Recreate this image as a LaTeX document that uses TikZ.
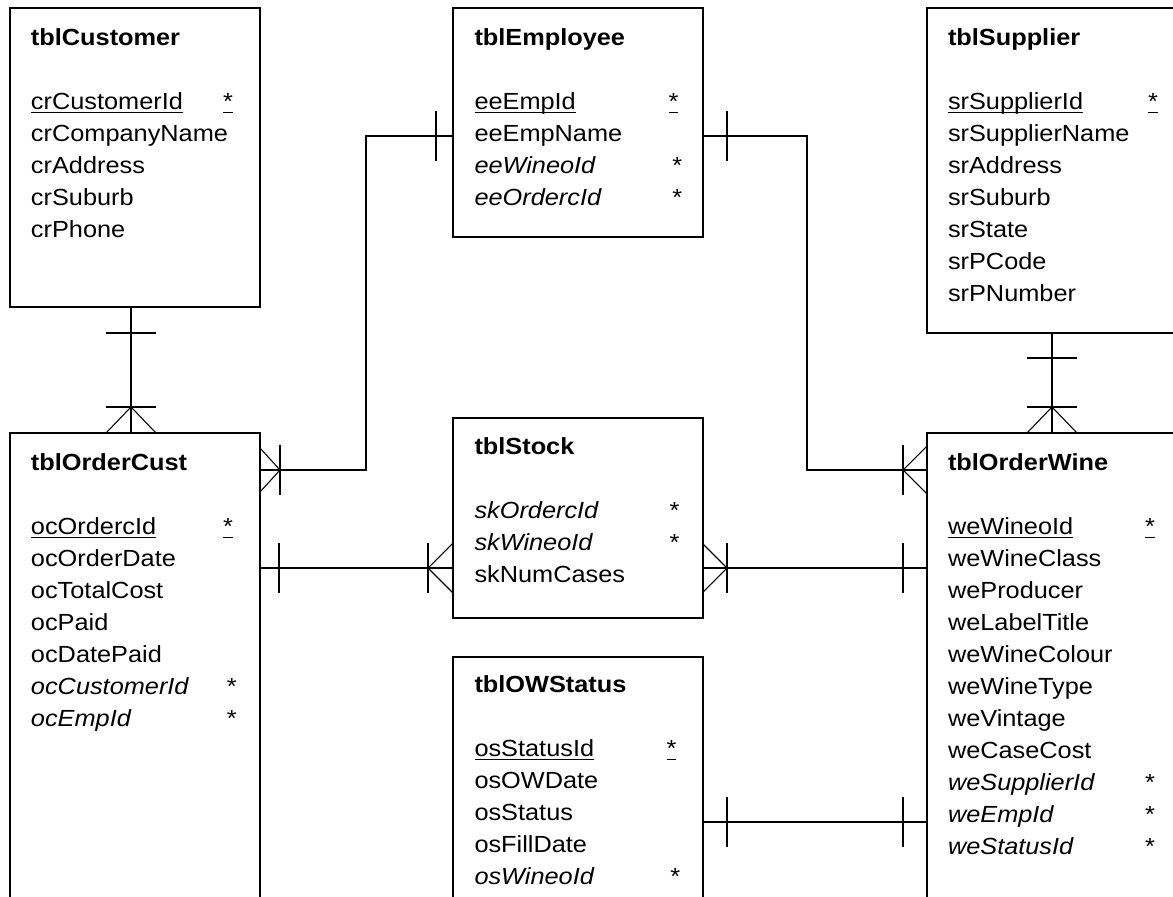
\documentclass[tikz,border=0pt]{standalone}
\usepackage{fontspec}
\setmainfont{Liberation Sans}[FakeStretch=1.085]
\usetikzlibrary{calc,fit}

% column position of the key marker
\newlength\starcol
\newcommand\fld[2]{\makebox[\starcol][l]{#1}#2}
% underline used for primary keys
\newcommand\keyul[1]{\setbox0\hbox{#1}\rlap{\rule[-3.3pt]{\wd0}{1pt}}\box0}

\tikzset{
  ent/.style={draw, line width=1.1pt, inner sep=0pt, outer sep=0pt},
  fields/.style={anchor=base west, inner sep=0pt, outer sep=0pt,
    font=\fontsize{17.5}{24}\selectfont},
  link/.style={line width=0.8pt},
}
% small perpendicular strokes on connectors
\newcommand\vtick[1]{\draw[link] ($(#1)+(0,-25)$) -- ($(#1)+(0,25)$);}
\newcommand\htick[1]{\draw[link] ($(#1)+(-25,0)$) -- ($(#1)+(25,0)$);}

\begin{document}
\begin{tikzpicture}[x=0.75pt,y=-0.75pt]
\useasboundingbox (0,0) rectangle (1173,896);
\clip (0,0) rectangle (1173,896);

% ---------- entity boxes ----------
\node[ent, fit={(10,8) (260,307)}]     (cust)  {};
\node[ent, fit={(453,8) (703,237)}]    (emp)   {};
\node[ent, fit={(927,8) (1177,333)}]   (sup)   {};
\node[ent, fit={(10,433) (260,910)}]   (ocust) {};
\node[ent, fit={(453,418) (703,618)}]  (stock) {};
\node[ent, fit={(453,657) (703,910)}]  (ows)   {};
\node[ent, fit={(927,433) (1177,910)}] (owine) {};

% ---------- attribute lists ----------
\node[fields] (cust-t) at (31,45) {\setlength\starcol{144pt}%
  \begin{tabular}[t]{@{}l@{}}
  \textbf{tblCustomer}\\ \\
  \fld{\keyul{crCustomerId}}{\keyul{*}}\\
  crCompanyName\\
  crAddress\\
  crSuburb\\
  crPhone
  \end{tabular}};

\node[fields] (emp-t) at (474.5,45) {\setlength\starcol{145.5pt}%
  \begin{tabular}[t]{@{}l@{}}
  \textbf{tblEmployee}\\ \\
  \fld{\keyul{eeEmpId}}{\keyul{*}}\\
  eeEmpName\\
  \fld{\textit{eeWineoId}}{\,*}\\
  \fld{\textit{eeOrdercId}}{\,*}
  \end{tabular}};

\node[fields] (sup-t) at (948,45) {\setlength\starcol{150pt}%
  \begin{tabular}[t]{@{}l@{}}
  \textbf{tblSupplier}\\ \\
  \fld{\keyul{srSupplierId}}{\keyul{*}}\\
  srSupplierName\\
  srAddress\\
  srSuburb\\
  srState\\
  srPCode\\
  srPNumber
  \end{tabular}};

\node[fields] (ocust-t) at (31,470) {\setlength\starcol{144pt}%
  \begin{tabular}[t]{@{}l@{}}
  \textbf{tblOrderCust}\\ \\
  \fld{\keyul{ocOrdercId}}{\keyul{*}}\\
  ocOrderDate\\
  ocTotalCost\\
  ocPaid\\
  ocDatePaid\\
  \fld{\textit{ocCustomerId}}{\,*}\\
  \fld{\textit{ocEmpId}}{\,*}
  \end{tabular}};

\node[fields] (stock-t) at (474.5,454) {\setlength\starcol{146.25pt}%
  \begin{tabular}[t]{@{}l@{}}
  \textbf{tblStock}\\ \\
  \fld{\textit{skOrdercId}}{*}\\
  \fld{\textit{skWineoId}}{*}\\
  skNumCases
  \end{tabular}};

\node[fields] (ows-t) at (474.5,692) {\setlength\starcol{144pt}%
  \begin{tabular}[t]{@{}l@{}}
  \textbf{tblOWStatus}\\ \\
  \fld{\keyul{osStatusId}}{\keyul{*}}\\
  osOWDate\\
  osStatus\\
  osFillDate\\
  \fld{\textit{osWineoId}}{\,*}
  \end{tabular}};

\node[fields] (owine-t) at (948,470) {\setlength\starcol{147.75pt}%
  \begin{tabular}[t]{@{}l@{}}
  \textbf{tblOrderWine}\\ \\
  \fld{\keyul{weWineoId}}{\keyul{*}}\\
  weWineClass\\
  weProducer\\
  weLabelTitle\\
  weWineColour\\
  weWineType\\
  weVintage\\
  weCaseCost\\
  \fld{\textit{weSupplierId}}{*}\\
  \fld{\textit{weEmpId}}{*}\\
  \fld{\textit{weStatusId}}{*}
  \end{tabular}};

% ---------- relationships ----------
% tblCustomer 1 -- many tblOrderCust
\coordinate (k1) at (131,0);
\draw[link] (cust.south -| k1) -- (ocust.north -| k1);
\coordinate (k1a) at ($(cust.south -| k1)+(0,26)$);
\coordinate (k1b) at ($(ocust.north -| k1)+(0,-26)$);
\htick{k1a}
\htick{k1b}
\draw[link] ($(ocust.north -| k1)+(-25,0)$) -- (k1b) -- ($(ocust.north -| k1)+(25,0)$);

% tblSupplier 1 -- many tblOrderWine
\coordinate (k4) at (1052,0);
\draw[link] (sup.south -| k4) -- (owine.north -| k4);
\coordinate (k4a) at ($(sup.south -| k4)+(0,25)$);
\coordinate (k4b) at ($(owine.north -| k4)+(0,-26)$);
\htick{k4a}
\htick{k4b}
\draw[link] ($(owine.north -| k4)+(-25,0)$) -- (k4b) -- ($(owine.north -| k4)+(25,0)$);

% tblEmployee 1 -- many tblOrderCust
\coordinate (r2a) at (366,136);
\coordinate (r2b) at (366,470);
\draw[link] (emp.west |- r2a) -- (r2a) -- (r2b) -- (ocust.east |- r2b);
\coordinate (k2a) at ($(emp.west |- r2a)+(-17,0)$);
\coordinate (k2b) at ($(ocust.east |- r2b)+(20,0)$);
\vtick{k2a}
\vtick{k2b}
\draw[link] ($(ocust.east |- r2b)+(0,-22)$) -- (k2b) -- ($(ocust.east |- r2b)+(0,22)$);

% tblEmployee 1 -- many tblOrderWine
\coordinate (r3a) at (807,136);
\coordinate (r3b) at (807,470);
\draw[link] (emp.east |- r3a) -- (r3a) -- (r3b) -- (owine.west |- r3b);
\coordinate (k3a) at ($(emp.east |- r3a)+(24,0)$);
\coordinate (k3b) at ($(owine.west |- r3b)+(-24,0)$);
\vtick{k3a}
\vtick{k3b}
\draw[link] ($(owine.west |- r3b)+(0,-24)$) -- (k3b) -- ($(owine.west |- r3b)+(0,24)$);

% tblOrderCust 1 -- many tblStock
\coordinate (r5) at (0,568);
\draw[link] (ocust.east |- r5) -- (stock.west |- r5);
\coordinate (k5a) at ($(ocust.east |- r5)+(19,0)$);
\coordinate (k5b) at ($(stock.west |- r5)+(-25,0)$);
\vtick{k5a}
\vtick{k5b}
\draw[link] ($(stock.west |- r5)+(0,-25)$) -- (k5b) -- ($(stock.west |- r5)+(0,25)$);

% tblOrderWine 1 -- many tblStock
\draw[link] (stock.east |- r5) -- (owine.west |- r5);
\coordinate (k6a) at ($(stock.east |- r5)+(24,0)$);
\coordinate (k6b) at ($(owine.west |- r5)+(-24,0)$);
\vtick{k6a}
\vtick{k6b}
\draw[link] ($(stock.east |- r5)+(0,-24)$) -- (k6a) -- ($(stock.east |- r5)+(0,24)$);

% tblOWStatus 1 -- 1 tblOrderWine
\coordinate (r7) at (0,822);
\draw[link] (ows.east |- r7) -- (owine.west |- r7);
\coordinate (k7a) at ($(ows.east |- r7)+(24,0)$);
\coordinate (k7b) at ($(owine.west |- r7)+(-24,0)$);
\vtick{k7a}
\vtick{k7b}
\end{tikzpicture}
\end{document}
